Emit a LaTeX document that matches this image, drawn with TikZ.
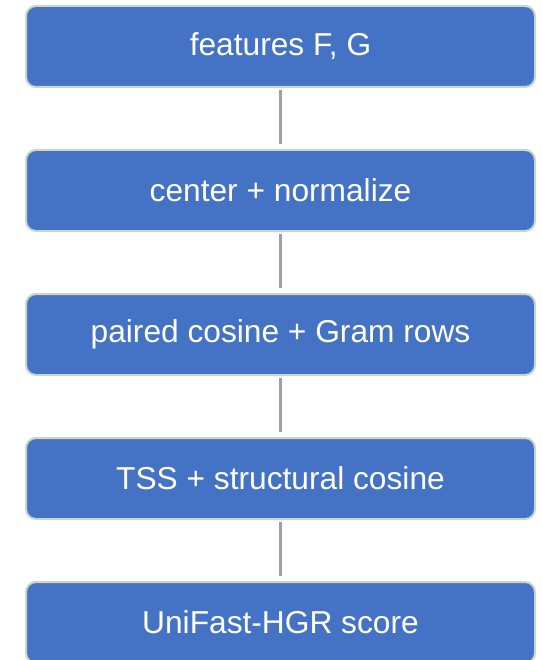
\documentclass[tikz,border=0pt]{standalone}
\usepackage{fontspec}
\setmainfont{Liberation Sans}
\begin{document}
\begin{tikzpicture}[x=1pt,y=-1pt,
  stage/.style={draw=stageedge, line width=2pt, fill=stagefill, rounded corners=10pt,
    minimum width=509pt, minimum height=81pt, text=white,
    font=\fontsize{31.7}{38}\selectfont, inner sep=0pt},
  link/.style={draw=linkgray, line width=3pt}]
\definecolor{stagefill}{HTML}{4472C4}
\definecolor{stageedge}{HTML}{CDD5C8}
\definecolor{linkgray}{HTML}{A0A0A0}
\newcommand{\stagetext}[1]{\raisebox{-2pt}{#1}}
\useasboundingbox (0,0) rectangle (541,660);
\begin{scope}
\clip (0,0) rectangle (541,660);
\node[stage] (s1) at (280.5,46.5)  {\stagetext{features F, G}};
\node[stage] (s2) at (280.5,190.5) {\stagetext{center + normalize}};
\node[stage] (s3) at (280.5,334.5) {\stagetext{paired cosine + Gram rows}};
\node[stage] (s4) at (280.5,478.5) {\stagetext{TSS + structural cosine}};
\node[stage] (s5) at (280.5,622.5) {\stagetext{UniFast-HGR score}};
\end{scope}
\foreach \a/\b in {s1/s2,s2/s3,s3/s4,s4/s5}
  \draw[link] ([yshift=-2pt]\a.south) -- ([yshift=5pt]\b.north);
\end{tikzpicture}
\end{document}
